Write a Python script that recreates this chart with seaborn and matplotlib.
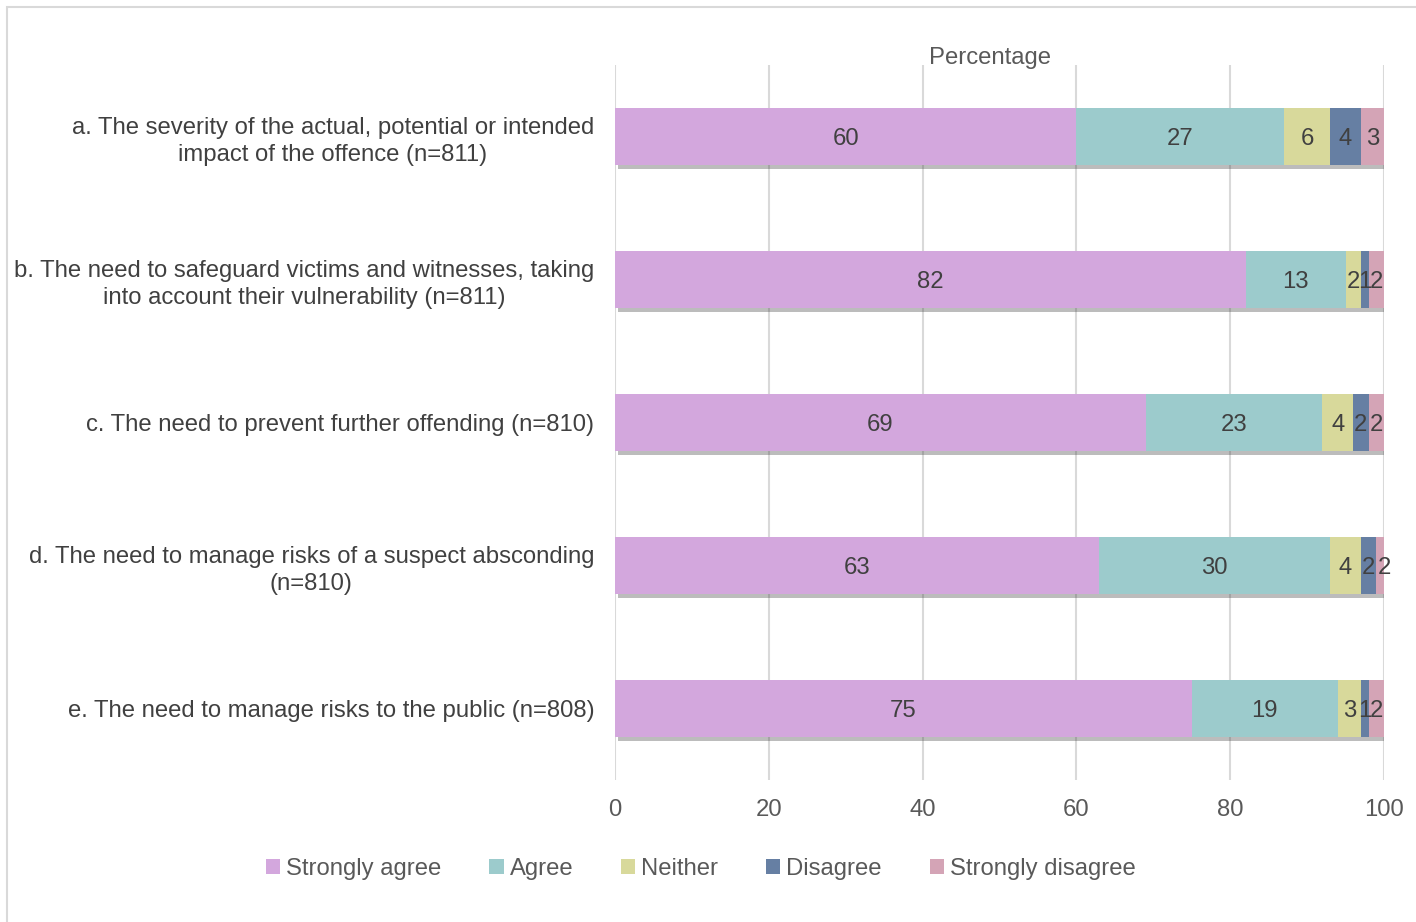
import numpy as np
import pandas as pd
import matplotlib.pyplot as plt
import matplotlib.patheffects as pe
from matplotlib.patches import Patch, Rectangle
import seaborn as sns

# Data
categories = [
    "a. The severity of the actual, potential or intended\nimpact of the offence (n=811)",
    "b. The need to safeguard victims and witnesses, taking\ninto account their vulnerability (n=811)",
    "c. The need to prevent further offending (n=810)",
    "d. The need to manage risks of a suspect absconding\n(n=810)",
    "e. The need to manage risks to the public (n=808)",
]
responses = ["Strongly agree", "Agree", "Neither", "Disagree", "Strongly disagree"]
strongly_agree = [60, 82, 69, 63, 75]
agree = [27, 13, 23, 30, 19]
neither = [6, 2, 4, 4, 3]
disagree = [4, 1, 2, 2, 1]
strongly_disagree = [3, 2, 2, 2, 2]

colors = ["#D3A7DD", "#9CCBCC", "#D8D99B", "#667FA3", "#D4A4B6"]

values = np.array([strongly_agree, agree, neither, disagree, strongly_disagree])
cum = values.cumsum(axis=0)

sns.set_style("white")
plt.rcParams['font.family'] = ['Liberation Sans', 'DejaVu Sans']
fs = 17.2

fig = plt.figure(figsize=(14.16, 9.22), dpi=100)
ax = fig.add_axes([0.4343, 0.154, 0.5431, 0.7755])

# stacked bars: draw cumulative totals from the back to the front
for i in range(len(responses) - 1, -1, -1):
    df = pd.DataFrame({"cat": categories, "val": cum[i]})
    sns.barplot(data=df, x="val", y="cat", orient="h", color=colors[i],
                width=0.4, saturation=1, linewidth=0, ax=ax, zorder=3)
    if i == len(responses) - 1:
        for p in ax.patches:
            p.set_path_effects([pe.SimplePatchShadow(offset=(2.5, -2.5), shadow_rgbFace="#404040", alpha=0.35),
                                pe.Normal()])

# segment labels
for i in range(len(responses)):
    for j in range(len(categories)):
        v = values[i, j]
        ax.text(cum[i, j] - v / 2, j, str(v), ha="center", va="center_baseline",
                fontsize=fs, color="#404040", zorder=5)

ax.set_xlim(0, 100)
ax.set_ylim(4.5, -0.5)
ax.set_xticks([0, 20, 40, 60, 80, 100])
ax.xaxis.grid(True, color="#D9D9D9", linewidth=1.5, zorder=0)
ax.set_axisbelow(True)
for s in ax.spines.values():
    s.set_visible(False)
ax.tick_params(axis="x", length=0, pad=14, labelsize=fs, labelcolor="#595959")
ax.tick_params(axis="y", length=0, pad=15, labelsize=fs, labelcolor="#404040")
for lab in ax.get_yticklabels():
    lab.set_multialignment("center")
    lab.set_linespacing(1.3)
ax.set_xlabel("")
ax.set_ylabel("")
ax.set_title("Percentage", fontsize=fs, color="#595959", pad=1, x=0.488)

handles = [Patch(facecolor=c, edgecolor="none") for c in colors]
fig.legend(handles, responses, loc="center", bbox_to_anchor=(0.495, 0.058), ncol=5,
           frameon=False, fontsize=fs, handlelength=0.6, handleheight=0.6,
           handletextpad=0.25, columnspacing=2.0, labelcolor="#595959")

fig.patches.append(Rectangle((0.005, -0.01), 1.0, 1.002, transform=fig.transFigure,
                             fill=False, edgecolor="#D9D9D9", linewidth=1.5))

fig.savefig("out.png", dpi=100)
